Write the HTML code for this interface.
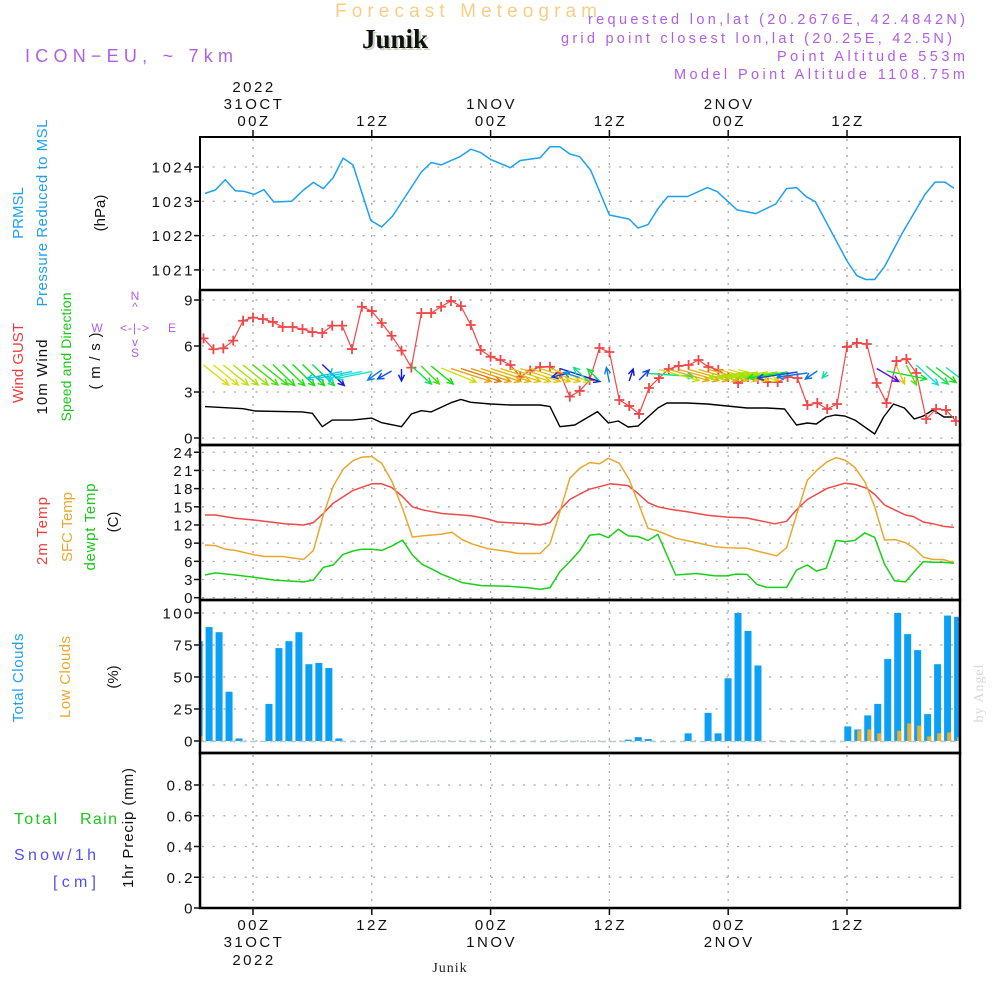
<!DOCTYPE html>
<html><head><meta charset="utf-8"><title>Forecast Meteogram Junik</title>
<style>
html,body{margin:0;padding:0;background:#fff;}
svg{display:block;font-family:"Liberation Sans",sans-serif;}
.tk{font-size:15px;fill:#111;letter-spacing:2.5px;}
.pl{font-size:14.5px;fill:#b15ee6;}
.lab{font-size:15px;}
</style></head>
<body>
<svg id="chart" width="1000" height="1000" viewBox="0 0 1000 1000">
<defs><clipPath id="plotclip"><rect x="200" y="137" width="760" height="771"/></clipPath></defs>
<rect x="0" y="0" width="1000" height="1000" fill="#fff"/>
<text x="466" y="17" text-anchor="middle" font-size="19" fill="#f5cf86" textLength="262" lengthAdjust="spacing">Forecast Meteogram</text>
<text x="397" y="50" text-anchor="middle" font-size="27" font-weight="bold" font-family="Liberation Serif, serif" fill="#c8d8c0">Junik</text>
<text x="395" y="48" text-anchor="middle" font-size="27" font-weight="bold" font-family="Liberation Serif, serif" fill="#111">Junik</text>
<text x="25" y="62" font-size="18" fill="#b15ee6" textLength="208" lengthAdjust="spacing">ICON−EU, ~ 7km</text>
<text x="965" y="24" text-anchor="end" class="pl" textLength="377" lengthAdjust="spacing">requested lon,lat (20.2676E, 42.4842N)</text>
<text x="952" y="43" text-anchor="end" class="pl" textLength="391" lengthAdjust="spacing">grid point closest lon,lat (20.25E, 42.5N)</text>
<text x="965" y="61" text-anchor="end" class="pl" textLength="188" lengthAdjust="spacing">Point Altitude 553m</text>
<text x="965" y="79" text-anchor="end" class="pl" textLength="291" lengthAdjust="spacing">Model Point Altitude 1108.75m</text>

<g id="grid"></g>
<g id="marks" clip-path="url(#plotclip)"></g>
<g id="frame"></g>
<g id="axes"></g>

<g class="lab">
<text transform="translate(23,213) rotate(-90)" text-anchor="middle" fill="#1ea0f0">PRMSL</text>
<text transform="translate(47,213) rotate(-90)" text-anchor="middle" fill="#1ea0f0" textLength="187" lengthAdjust="spacing">Pressure Reduced to MSL</text>
<text transform="translate(105,213) rotate(-90)" text-anchor="middle" fill="#111">(hPa)</text>
<text transform="translate(23,363) rotate(-90)" text-anchor="middle" fill="#f03c3c" textLength="80" lengthAdjust="spacing">Wind GUST</text>
<text transform="translate(47,377) rotate(-90)" text-anchor="middle" fill="#111" textLength="75" lengthAdjust="spacing">10m Wind</text>
<text transform="translate(71,357) rotate(-90)" text-anchor="middle" fill="#18c818" font-size="14" textLength="129" lengthAdjust="spacing">Speed and Direction</text>
<text transform="translate(100,361) rotate(-90)" text-anchor="middle" fill="#111" textLength="57" lengthAdjust="spacing">(m/s)</text>
<g font-size="12" fill="#b15ee6">
<text x="135" y="300" text-anchor="middle">N</text>
<text x="135" y="311" text-anchor="middle">^</text>
<text x="97" y="332" text-anchor="middle">W</text>
<text x="135" y="332" text-anchor="middle" letter-spacing="1">&lt;-|-&gt;</text>
<text x="172" y="332" text-anchor="middle">E</text>
<text x="135" y="346" text-anchor="middle">v</text>
<text x="135" y="357" text-anchor="middle">S</text>
</g>
<text transform="translate(47,531) rotate(-90)" text-anchor="middle" fill="#f03c3c" textLength="68" lengthAdjust="spacing">2m Temp</text>
<text transform="translate(72,527) rotate(-90)" text-anchor="middle" fill="#e8a830" textLength="70" lengthAdjust="spacing">SFC Temp</text>
<text transform="translate(95,527) rotate(-90)" text-anchor="middle" fill="#18c818" textLength="87" lengthAdjust="spacing">dewpt Temp</text>
<text transform="translate(118,522) rotate(-90)" text-anchor="middle" fill="#111">(C)</text>
<text transform="translate(23,678) rotate(-90)" text-anchor="middle" fill="#1ea0f0" textLength="89" lengthAdjust="spacing">Total Clouds</text>
<text transform="translate(70,677) rotate(-90)" text-anchor="middle" fill="#e8a830" textLength="82" lengthAdjust="spacing">Low Clouds</text>
<text transform="translate(118,677) rotate(-90)" text-anchor="middle" fill="#111">(%)</text>
<text x="14" y="824" fill="#18c818" font-size="16" textLength="43" lengthAdjust="spacing">Total</text>
<text x="80" y="824" fill="#18c818" font-size="16" textLength="37" lengthAdjust="spacing">Rain</text>
<text x="14" y="860" fill="#5050f0" font-size="16" textLength="82" lengthAdjust="spacing">Snow/1h</text>
<text x="53" y="887" fill="#5050f0" font-size="16" textLength="43" lengthAdjust="spacing">[cm]</text>
<text transform="translate(133,828) rotate(-90)" text-anchor="middle" fill="#111" textLength="120" lengthAdjust="spacing">1hr Precip (mm)</text>
</g>
<text x="450" y="972" text-anchor="middle" font-size="14" font-family="Liberation Serif, serif" fill="#222" letter-spacing="1">Junik</text>
<text transform="translate(983,693) rotate(-90)" text-anchor="middle" font-size="14" font-family="Liberation Serif, serif" fill="#d8d8d8" letter-spacing="1">by Angel</text>
</svg>
<script>
// ---- data (hours relative to 31OCT 00Z) ----
const pressH = [-4.85,-3.8,-2.8,-1.8,-0.9,0.1,1.1,2.1,3.9,5.1,6.1,7.1,8.1,9.1,10.1,11.9,13,14.1,17,18,19,20.9,22,23,24,26,27,29,30,31,32,33,34.1,36,38,38.9,39.9,40.9,41.9,43.9,45.9,46.9,48.9,50.8,52.8,53.9,54.9,55.9,56.8,60,61,61.9,62.8,63.8,65.6,67.9,68.9,69.9,70.8];
const pressV = [1023.23,1023.33,1023.63,1023.31,1023.29,1023.2,1023.34,1022.98,1023.0,1023.33,1023.55,1023.37,1023.69,1024.26,1024.06,1022.44,1022.25,1022.57,1023.85,1024.13,1024.06,1024.30,1024.52,1024.42,1024.22,1023.98,1024.19,1024.27,1024.59,1024.59,1024.38,1024.30,1023.91,1022.6,1022.48,1022.22,1022.32,1022.78,1023.14,1023.14,1023.4,1023.28,1022.75,1022.64,1022.92,1023.37,1023.40,1023.13,1022.99,1021.26,1020.83,1020.72,1020.72,1021.1,1022.08,1023.21,1023.56,1023.56,1023.38];
const hourStart = -5;
const gustV = [6.5,5.79,5.85,6.35,7.65,7.85,7.76,7.57,7.24,7.24,7.1,6.91,6.85,7.33,7.33,5.8,8.56,8.28,7.5,6.67,5.7,4.59,8.15,8.15,8.56,8.94,8.6,7.37,5.74,5.3,5.09,4.76,4.0,4.4,4.63,4.65,4.24,2.7,3.07,3.78,5.87,5.61,2.48,2.09,1.57,3.26,3.91,4.50,4.70,4.76,5.09,4.63,4.44,3.98,3.59,3.98,3.85,3.65,3.65,3.98,3.91,2.15,2.28,1.89,2.22,5.94,6.2,6.13,3.59,2.28,5.02,5.15,4.24,1.24,1.89,1.83,1.11];
const windSpdH = [-4.85,-1,0.2,5,6,7,8,10,12,13,15,16,17,18,20,21,22,24,26,29,30,31,32.5,34.8,35.9,36.9,37.9,38.9,39.9,40.9,41.8,43.8,45.9,47.9,49.9,51.9,53.7,54.9,56,56.9,57.9,58.8,59.8,60.8,62.8,63.7,64.7,65.8,66.8,67.7,68.7,69.8,70.8];
const windSpdV = [2.05,1.91,1.76,1.70,1.61,0.74,1.17,1.17,1.30,1.0,0.74,1.57,1.78,1.70,2.30,2.52,2.33,2.22,2.15,2.15,2.05,0.74,0.85,1.72,0.98,1.11,0.72,0.78,1.37,1.96,2.28,2.28,2.22,2.09,1.96,1.96,1.89,0.85,0.98,0.91,1.37,1.5,1.43,1.17,0.26,1.37,2.22,1.96,1.24,1.43,1.83,1.37,1.37];
const windU = [25,25,25,25,25,25,25,22,22,22,22,22,22,-3,-35,-35,-35,-35,-14,-14,0,20,18,22,35,40,40,40,40,40,40,40,40,40,40,40,40,-18,-16,-16,-12,-3,0,4,10,45,40,40,40,40,40,40,40,40,40,-40,-40,-40,-40,-40,-40,-30,-12,-5,0,0,0,0,22,40,8,10,22,22,20,20,0];
const windV = [-20,-20,-20,-20,-20,-20,-20,-21,-21,-21,-21,-21,-21,-14,-7,-7,-7,-7,-10,-8,-12,-18,-18,-18,-14,-13,-13,-13,-13,-13,-13,-13,-13,-13,-13,-13,-13,-4,5,15,12,15,0,12,10,-3,-11,-11,-11,-11,-11,-11,-11,-11,-11,-6,-6,-6,-6,-6,-6,-4,-8,-6,0,0,0,0,-13,-8,-18,-20,-20,-18,-15,-15,0];
const t2H = [-4.85,-3.8,-1.8,0.2,3.2,5.1,6.1,7.1,8.1,10.1,12,13,14,15.1,16.1,17.1,19.1,21.1,22.1,23.7,24.7,25.8,27.8,29,30,31,32,33,34,36.1,37.9,38.9,39.9,40.9,42.1,43.8,45.9,47.9,49.9,50.9,52.7,53.9,54.9,56,58,59.8,60.8,62,62.8,63.8,64.8,65.9,66.7,67.7,68.7,69.7,70.8];
const t2V = [13.65,13.65,13.1,12.8,12.2,12.0,12.4,13.9,15.6,17.7,18.8,18.8,18.2,16.7,15.0,14.5,13.9,13.65,13.5,13.0,12.5,12.4,12.2,12.0,12.4,14.5,16.2,17.1,17.9,18.8,18.5,17.2,15.7,15.0,14.6,14.2,13.6,13.3,13.15,12.8,12.2,12.6,14.5,16.2,18.05,18.9,18.7,18.05,17.05,15.3,14.5,13.65,13.4,12.5,12.2,11.8,11.6];
const sfcH = [-4.85,-3.8,-2.8,-1.8,0.2,1.2,3.0,5.1,6.1,7.1,8.1,9.1,10.1,11,12,13,14,15.1,16.1,17.1,19.1,20.1,21.1,22.1,23.7,25.8,26.8,29,30,31,32,33,34,35,35.9,37,38,39.9,40.9,42.7,44.8,46.7,47.8,49.9,50.9,52.9,53.9,54.9,56,57,58,58.9,59.8,60.8,61.8,62.8,63.8,64.8,65.9,66.8,67.7,68.7,69.7,70.8];
const sfcV = [8.7,8.6,8.0,7.8,7.05,6.8,6.8,6.3,7.8,13.65,18.4,21.2,22.6,23.2,23.3,22.2,19.3,14.75,10.0,10.2,10.5,10.8,9.6,8.9,8.1,7.6,7.3,7.3,8.9,14.2,19.7,21.35,22.3,22.1,23.0,22.2,19.5,11.45,11.0,9.8,9.1,8.4,8.25,8.15,7.7,6.9,8.25,13.65,19.4,21.1,22.45,23.1,22.7,21.5,19.15,15.0,9.5,9.6,9.1,8.15,6.7,6.3,6.3,5.8];
const dewH = [-4.85,-3.8,-1.8,0.2,2.2,5.1,6.1,7.1,8.1,9.1,10.1,11,12,13,14,15.1,16.1,17.1,18.1,19.1,20.1,21.1,23.1,25.8,27.8,29,30,31,32,33,34,35,35.9,36.9,37.9,38.9,39.9,40.9,42.7,44.8,46.7,47.8,48.8,49.9,50.9,51.9,53.9,54.9,56,56.9,57.9,58.9,59.8,60.8,61.8,62.8,63.8,64.8,65.9,66.8,67.7,68.7,69.7,70.8];
const dewV = [3.75,4.1,3.75,3.35,2.9,2.6,2.9,5.0,5.4,7.15,7.7,8.0,8.0,7.8,8.5,9.5,7.05,5.5,4.7,3.85,3.2,2.5,2.0,1.9,1.65,1.4,1.65,4.3,5.95,7.75,10.3,10.5,9.9,11.3,10.2,10.1,9.45,10.45,3.75,4.0,3.6,3.6,3.9,3.85,2.2,1.7,1.7,4.55,5.4,4.4,4.85,9.45,9.25,9.45,10.7,9.95,5.5,2.8,2.6,4.3,5.95,5.85,5.85,5.7];
const totalCloud = [78,89,85,38.5,2,0,0,29,72.6,78,85,60,61,57,2,0,0,0,0,0,0,0,0,0,0,0,0,0,0,0,0,0,0,0,0,0,0,0,0,0,0,0,0,1,3,1.5,0,0,0,6,0,22,6,49,100,86,59,0,0,0,0,0,0,0,0,11.4,9,20,29,64,100,83.5,71,21,60,98,97];
const lowCloud = [4,0,0,0,0,0,0,0,0,0,0,0,0,0,0,0,0,0,0,0,0,0,0,0,0,0,0,0,0,0,0,0,0,0,0,0,0,0,0,0,0,0,0,0,0,0,0,0,0,0,0,0,0,0,0,0,0,0,0,0,0,0,0,0,0,0,8.3,9,6,0,8,13.7,12,3.6,6,6.7,3];
const precip = new Array(77).fill(0);
const xTicksH = [0,12,24,36,48,60];
const xTickTime = ["00Z","12Z","00Z","12Z","00Z","12Z"];
const xTickDate = ["31OCT","","1NOV","","2NOV",""];
const pressTicks = [1021,1022,1023,1024];
const windTicks = [0,3,6,9];
const tempTicks = [0,3,6,9,12,15,18,21,24];
const cloudTicks = [0,25,50,75,100];
const precipTicks = [0,0.2,0.4,0.6,0.8];
const precipTickLabels = ["0","0.2","0.4","0.6","0.8"];

// ---- scales ----
const x = h => 253 + 9.9*h;
const barX = h => 249 + 9.98*h;
const yP = p => 167 + (1024-p)*34.3;
const yW = v => 438 - v*15.33;
const yT = t => 597.7 - t*6.06;
const yC = c => 741 - c*1.28;
const yR = r => 908 - r*153.75;
const NS = "http://www.w3.org/2000/svg";
function mk(tag, attrs, parent){const e=document.createElementNS(NS,tag);for(const k in attrs)e.setAttribute(k,attrs[k]);parent.appendChild(e);return e;}
const grid=document.getElementById('grid'), marks=document.getElementById('marks'), frame=document.getElementById('frame'), axes=document.getElementById('axes');

const panels=[{top:137,bot:290,ticks:pressTicks,f:yP,lab:pressTicks.map(String),n:'pressure'},
{top:290,bot:445,ticks:windTicks,f:yW,lab:windTicks.map(String),n:'wind'},
{top:445,bot:600,ticks:tempTicks,f:yT,lab:tempTicks.map(String),n:'temperature'},
{top:600,bot:753,ticks:cloudTicks,f:yC,lab:cloudTicks.map(String),n:'cloud'},
{top:753,bot:908,ticks:precipTicks,f:yR,lab:precipTickLabels,n:'precip'}];
panels.forEach(p=>{
  p.ticks.forEach((t,i)=>{
    const y=p.f(t);
    let l=mk('line',{x1:202,x2:958,y1:y,y2:y,stroke:'#a8a8a8','stroke-width':1.3,'stroke-dasharray':'2 8.7'},grid);
    
    
    let tk=mk('line',{x1:194,x2:200,y1:y,y2:y,stroke:'#111','stroke-width':1.5},axes);
    
    
    let tx=mk('text',{x:195,y:y+5.5,'text-anchor':'end','class':'tk'},axes);
    tx.textContent=p.lab[i];
    
    
  });
  xTicksH.forEach(h=>{
    let l=mk('line',{x1:x(h),x2:x(h),y1:p.top+2,y2:p.bot-2,stroke:'#a8a8a8','stroke-width':1.3,'stroke-dasharray':'2 6'},grid);
    
    
  });
  let r=mk('rect',{x:200,y:p.top,width:760,height:p.bot-p.top,fill:'none',stroke:'#000','stroke-width':p.n==='pressure'?2:2.5},frame);
  
  
});
// x-axis labels top & bottom
xTicksH.forEach((h,i)=>{
  let t1=mk('line',{x1:x(h),x2:x(h),y1:130,y2:137,stroke:'#111','stroke-width':1.5},axes);
  
  
  let t2=mk('line',{x1:x(h),x2:x(h),y1:908,y2:915,stroke:'#111','stroke-width':1.5},axes);
  
  
  [[126,xTickTime[i]],[109,xTickDate[i]],[930,xTickTime[i]],[947,xTickDate[i]]].forEach(([y,s])=>{
    if(!s)return;
    let t=mk('text',{x:x(h)+1,y:y,'text-anchor':'middle','class':'tk'},axes);
    t.textContent=s;
    
    
  });
  if(i===0){[92,965].forEach(y=>{
    let t=mk('text',{x:x(h)+1,y:y,'text-anchor':'middle','class':'tk'},axes);
    t.textContent='2022';
    
    
  });}
});

function line(H,V,fy,color,name,w){
  const d=H.map((h,i)=>(i?'L':'M')+x(h).toFixed(1)+','+fy(V[i]).toFixed(1)).join(' ');
  const p=mk('path',{d:d,fill:'none',stroke:color,'stroke-width':w||1.5,'stroke-linejoin':'round'},marks);
  
  
}
line(pressH,pressV,yP,'#1ea0f0','pressure-line');
line(windSpdH,windSpdV,yW,'#000','wind-speed-line',1.4);
line(t2H,t2V,yT,'#f04848','temp-2m-line');
line(sfcH,sfcV,yT,'#e8a830','sfc-temp-line');
line(dewH,dewV,yT,'#18d018','dewpoint-line');
const gustH=gustV.map((v,i)=>hourStart+i);
line(gustH,gustV,yW,'#f04848','wind-gust-line',1.2);
gustH.forEach((h,i)=>{
  const cx=x(h), cy=yW(gustV[i]);
  const g=mk('path',{d:`M${cx-5},${cy}h10M${cx},${cy-5}v10`,stroke:'#f04848','stroke-width':1.8},marks);
  
  
});
// wind arrows coloured by speed
function spdAt(h){for(let i=1;i<windSpdH.length;i++){if(h<=windSpdH[i]){const a=windSpdH[i-1],b=windSpdH[i];const t=Math.max(0,Math.min(1,(h-a)/(b-a)));return windSpdV[i-1]+t*(windSpdV[i]-windSpdV[i-1]);}}return windSpdV[windSpdV.length-1];}
const hueS=[0.3,0.8,1.2,1.7,2.05,2.5], hueV=[285,230,185,120,58,30];
function hueFor(s){if(s<=hueS[0])return hueV[0];for(let i=1;i<hueS.length;i++){if(s<=hueS[i]){const t=(s-hueS[i-1])/(hueS[i]-hueS[i-1]);return hueV[i-1]+t*(hueV[i]-hueV[i-1]);}}return hueV[hueV.length-1];}
windU.forEach((u,i)=>{
  const v=windV[i]; if(!u&&!v)return;
  const h=hourStart+i, tx=x(h), ty=375+v/2, hx=tx+u, hy=ty-v;
  const col=`hsl(${hueFor(spdAt(h)).toFixed(0)},88%,47%)`;
  const ang=Math.atan2(hy-ty,hx-tx), L=7;
  const a1=ang+Math.PI-0.45, a2=ang+Math.PI+0.45;
  const d=`M${tx.toFixed(1)},${ty.toFixed(1)}L${hx.toFixed(1)},${hy.toFixed(1)}M${(hx+L*Math.cos(a1)).toFixed(1)},${(hy+L*Math.sin(a1)).toFixed(1)}L${hx.toFixed(1)},${hy.toFixed(1)}L${(hx+L*Math.cos(a2)).toFixed(1)},${(hy+L*Math.sin(a2)).toFixed(1)}`;
  const a=mk('path',{d:d,fill:'none',stroke:col,'stroke-width':1.4},marks);
  
  
});
// cloud bars
totalCloud.forEach((c,i)=>{
  const h=hourStart+i, cx=barX(h);
  if(c>0){
    const b=mk('rect',{x:cx-3.5,y:yC(c),width:7,height:yC(0)-yC(c),fill:'#0aa0f5'},marks);
    
    
  }
  const lc=lowCloud[i];
  if(lc>0){
    const b2=mk('rect',{x:cx-0.5,y:yC(lc),width:4,height:yC(0)-yC(lc),fill:'#e8b030'},marks);
    
    
  }
  const pr=precip[i];
  if(pr>0){
    const b3=mk('rect',{x:cx-3.5,y:yR(pr),width:7,height:yR(0)-yR(pr),fill:'#18c818'},marks);
    
    
  }
});
const bl=mk('line',{x1:200,x2:960,y1:yC(0)+0.5,y2:yC(0)+0.5,stroke:'#b8c8d0','stroke-width':1.5,'stroke-dasharray':'6 4'},marks);


</script>
</body></html>
